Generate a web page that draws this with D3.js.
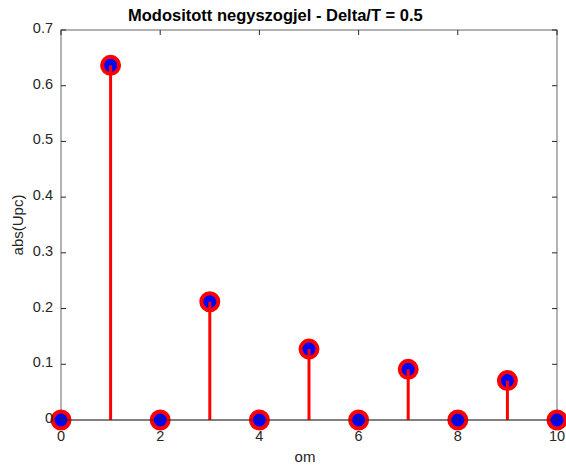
<!DOCTYPE html>
<html><head><meta charset="utf-8">
<script src="https://cdn.jsdelivr.net/npm/d3@7"></script>
<style>body{margin:0;background:#fff;} text{font-family:"Liberation Sans",Arial,sans-serif;}</style>
</head><body><svg id="c" width="566" height="465"></svg>
<script>
const om = [0,1,2,3,4,5,6,7,8,9,10];
const absUpc = [0,0.6366,0,0.2122,0,0.1273,0,0.0909,0,0.0707,0];
const xTicks = [0,2,4,6,8,10];
const yTicks = [0,0.1,0.2,0.3,0.4,0.5,0.6,0.7];
const titleText = "Modositott negyszogjel - Delta/T = 0.5";
const xLabel = "om", yLabel = "abs(Upc)";

const svg = d3.select("#c");
const L=61, R=557, T=30, B=420;
const x = d3.scaleLinear().domain([0,10]).range([L,R]);
const y = d3.scaleLinear().domain([0,0.7]).range([B,T]);
const axisCol = "#262626";

const g = svg.append("g");
// axes box
g.append("rect").attr("x",L).attr("y",T).attr("width",R-L).attr("height",B-T)
 .attr("fill","none").attr("stroke",axisCol).attr("stroke-width",1).attr("stroke-opacity",0.7);

// markers
g.selectAll("circle.m").data(om).join("circle")
 .attr("cx",d=>x(d)).attr("cy",(d,i)=>y(absUpc[i])).attr("r",8.5)
 .attr("fill","#0000ff").attr("stroke","#ff0000").attr("stroke-width",4);
// stems
g.selectAll("line.s").data(om).join("line")
 .attr("x1",d=>x(d)).attr("x2",d=>x(d)).attr("y1",y(0)).attr("y2",(d,i)=>y(absUpc[i]))
 .attr("stroke","#ff0000").attr("stroke-width",3);
// baseline
g.append("line").attr("x1",L).attr("x2",R).attr("y1",y(0)).attr("y2",y(0))
 .attr("stroke",axisCol).attr("stroke-opacity",0.7).attr("stroke-width",1);

// ticks (inward, all four sides)
const tl=5;
xTicks.forEach(t=>{
  g.append("line").attr("x1",x(t)).attr("x2",x(t)).attr("y1",B).attr("y2",B-tl).attr("stroke",axisCol);
  g.append("line").attr("x1",x(t)).attr("x2",x(t)).attr("y1",T).attr("y2",T+tl).attr("stroke",axisCol);
  g.append("text").attr("x",x(t)).attr("y",B+21).attr("text-anchor","middle")
   .attr("font-size",14.5).attr("fill",axisCol).text(t);
});
yTicks.forEach(t=>{
  g.append("line").attr("x1",L).attr("x2",L+tl).attr("y1",y(t)).attr("y2",y(t)).attr("stroke",axisCol);
  g.append("line").attr("x1",R).attr("x2",R-tl).attr("y1",y(t)).attr("y2",y(t)).attr("stroke",axisCol);
  g.append("text").attr("x",L-8).attr("y",y(t)+3).attr("text-anchor","end")
   .attr("font-size",14.5).attr("fill",axisCol).text(t);
});

svg.append("text").attr("x",128).attr("y",21).attr("text-anchor","start")
 .attr("font-size",16.5).attr("font-weight","bold").attr("fill","#000").text(titleText);
svg.append("text").attr("x",305).attr("y",462).attr("text-anchor","middle")
 .attr("font-size",15).attr("fill",axisCol).text(xLabel);
svg.append("text").attr("transform",`translate(23,${(T+B)/2}) rotate(-90)`).attr("text-anchor","middle")
 .attr("font-size",15).attr("fill",axisCol).text(yLabel);
</script></body></html>
